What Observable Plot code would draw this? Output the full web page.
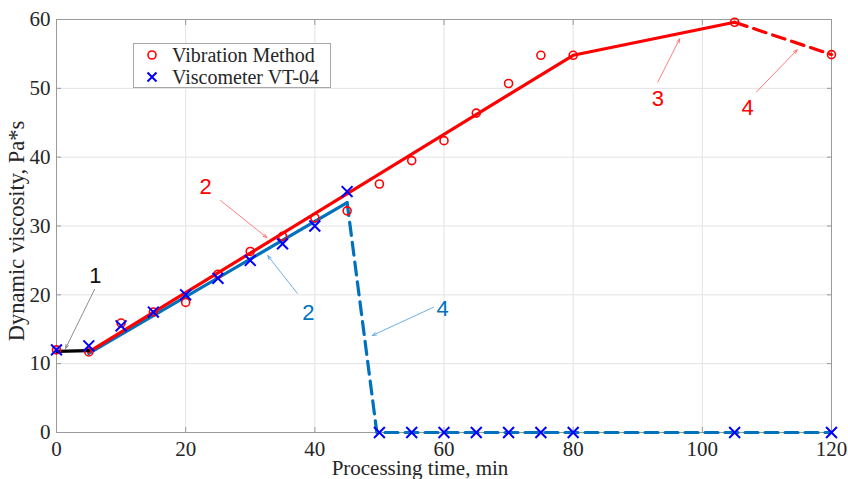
<!DOCTYPE html>
<html>
<head>
<meta charset="utf-8">
<script src="https://cdn.jsdelivr.net/npm/d3@7"></script>
<script src="https://cdn.jsdelivr.net/npm/@observablehq/plot@0.6"></script>
<style>
  html, body { margin: 0; padding: 0; background: #fff; }
  #wrap { position: relative; width: 848px; height: 479px; }
  #legend { position: absolute; left: 133px; top: 43px; width: 196px; height: 43px;
    border: 1px solid #a8a8a8; background: #fff; font-family: "Liberation Serif", "Times New Roman", serif;
    font-size: 20px; color: #262626; }
  .row { position: absolute; left: 0; height: 22px; line-height: 22px; }
  .row svg { position: absolute; left: 11px; top: 4px; }
  .row span { position: absolute; left: 38px; white-space: nowrap; }
</style>
</head>
<body>
<div id="wrap">
  <div id="chart"></div>
  <div id="legend">
    <div class="row" style="top:0px"><svg width="14" height="14"><circle cx="7" cy="7" r="4" fill="none" stroke="#ff0000" stroke-width="1.6"/></svg><span>Vibration Method</span></div>
    <div class="row" style="top:22px"><svg width="14" height="14"><path d="M2.5,2.5L11.5,11.5M11.5,2.5L2.5,11.5" stroke="#0000ff" stroke-width="2"/></svg><span>Viscometer VT-04</span></div>
  </div>
</div>
<script>
// Data
const time = [0, 5, 10, 15, 20, 25, 30, 35, 40, 45, 50, 55, 60, 65, 70, 75, 80, 105, 120];
const vibration = [12.0, 11.7, 15.9, 17.5, 18.9, 23.0, 26.3, 28.5, 31.2, 32.2, 36.1, 39.5, 42.4, 46.4, 50.7, 54.8, 54.8, 59.6, 54.9];
const viscometer = [12.0, 12.6, 15.5, 17.5, 20.0, 22.4, 25.0, 27.4, 30.0, 35.0, 0, 0, 0, 0, 0, 0, 0, 0, 0];

// Fitted stage lines
const stage1X = [0, 5];            const stage1Y = [11.8, 11.9];
const redSolidX = [5, 80, 105];    const redSolidY = [11.7, 54.8, 59.6];
const redDashX = [105, 120];       const redDashY = [59.6, 54.9];
const blueSolidX = [5, 45];        const blueSolidY = [11.5, 33.4];
const blueDashX = [45, 49.6, 120]; const blueDashY = [33.4, 0, 0];

// Tick values and axis titles
const xTicks = [0, 20, 40, 60, 80, 100, 120];
const yTicks = [0, 10, 20, 30, 40, 50, 60];
const xTitle = "Processing time, min";
const yTitle = "Dynamic viscosity, Pa*s";

// Annotations (label, colour group, text position, arrow from -> to), in data units
const annLabels = ["1", "2", "2", "4", "3", "4"];
const annGroups = ["black", "red", "blue", "blue", "red", "red"];
const annTextX = [6.0, 23.1, 39.0, 59.8, 93.1, 107.0];
const annTextY = [22.8, 35.7, 17.4, 18.0, 48.5, 47.2];
const annFromX = [5.9, 25.4, 37.3, 58.4, 93.1, 108.4];
const annFromY = [20.8, 33.7, 20.2, 18.2, 50.9, 49.5];
const annToX = [1.4, 32.6, 32.7, 48.9, 96.5, 114.7];
const annToY = [12.2, 28.3, 25.7, 14.1, 57.2, 55.6];

const textColor = {black: "#111111", red: "#ff0000", blue: "#0072bd"};
const arrowColor = {black: "#808080", red: "#ff7070", blue: "#5ea6dc"};

const pts = time.map((t, i) => ({t, vib: vibration[i], visc: viscometer[i]}));
const toPts = (xs, ys) => xs.map((x, i) => ({x, y: ys[i]}));
const ann = annLabels.map((label, i) => ({
  label, group: annGroups[i], tx: annTextX[i], ty: annTextY[i],
  x1: annFromX[i], y1: annFromY[i], x2: annToX[i], y2: annToY[i]
}));

const serif = "'Liberation Serif', 'Times New Roman', serif";

const chart = Plot.plot({
  width: 848,
  height: 479,
  marginLeft: 56,
  marginRight: 17,
  marginTop: 19,
  marginBottom: 47,
  style: {fontFamily: serif, fontSize: "21px", color: "#262626", background: "#fff"},
  x: {domain: [0, 120]},
  y: {domain: [0, 60]},
  marks: [
    Plot.gridX(xTicks, {stroke: "#e3e3e3", strokeOpacity: 1}),
    Plot.gridY(yTicks, {stroke: "#e3e3e3", strokeOpacity: 1}),
    Plot.frame({stroke: "#9a9a9a"}),
    Plot.axisX(xTicks, {anchor: "bottom", tickSize: -5, tickPadding: 14, stroke: "#9a9a9a", label: null, fontSize: 21}),
    Plot.axisX(xTicks, {anchor: "top", tickSize: -5, stroke: "#9a9a9a", label: null, tickFormat: () => ""}),
    Plot.axisY(yTicks, {anchor: "left", tickSize: -5, tickPadding: 11, stroke: "#9a9a9a", label: null, fontSize: 21}),
    Plot.axisY(yTicks, {anchor: "right", tickSize: -5, stroke: "#9a9a9a", label: null, tickFormat: () => ""}),
    Plot.text([xTitle], {text: d => d, frameAnchor: "bottom", textAnchor: "middle", lineAnchor: "bottom", dx: -24, dy: 42.5, fontSize: 21, fill: "#262626"}),
    Plot.text([yTitle], {text: d => d, frameAnchor: "left", rotate: -90, textAnchor: "middle", lineAnchor: "middle", dx: -40, dy: 5, fontSize: 22.5, fill: "#262626"}),
    Plot.line(toPts(blueDashX, blueDashY), {x: "x", y: "y", stroke: "#0072bd", strokeWidth: 3.2, strokeDasharray: "13,7"}),
    Plot.line(toPts(blueSolidX, blueSolidY), {x: "x", y: "y", stroke: "#0072bd", strokeWidth: 3.2}),
    Plot.line(toPts(redSolidX, redSolidY), {x: "x", y: "y", stroke: "#ff0000", strokeWidth: 3.2}),
    Plot.line(toPts(redDashX, redDashY), {x: "x", y: "y", stroke: "#ff0000", strokeWidth: 3.2, strokeDasharray: "13,7"}),
    Plot.line(toPts(stage1X, stage1Y), {x: "x", y: "y", stroke: "#000000", strokeWidth: 3.2}),
    Plot.dot(pts, {x: "t", y: "vib", r: 4, stroke: "#ff0000", strokeWidth: 1.6, fill: "none"}),
    Plot.dot(pts, {x: "t", y: "visc", symbol: "times", r: 5, stroke: "#0000ff", strokeWidth: 2}),
    Plot.arrow(ann, {x1: "x1", y1: "y1", x2: "x2", y2: "y2", stroke: d => arrowColor[d.group], strokeWidth: 0.9, headLength: 7, headAngle: 40}),
    Plot.text(ann, {x: "tx", y: "ty", text: "label", fill: d => textColor[d.group], fontFamily: "'Liberation Sans', Arial, sans-serif", fontSize: 22})
  ]
});
document.getElementById("chart").appendChild(chart);
</script>
</body>
</html>
